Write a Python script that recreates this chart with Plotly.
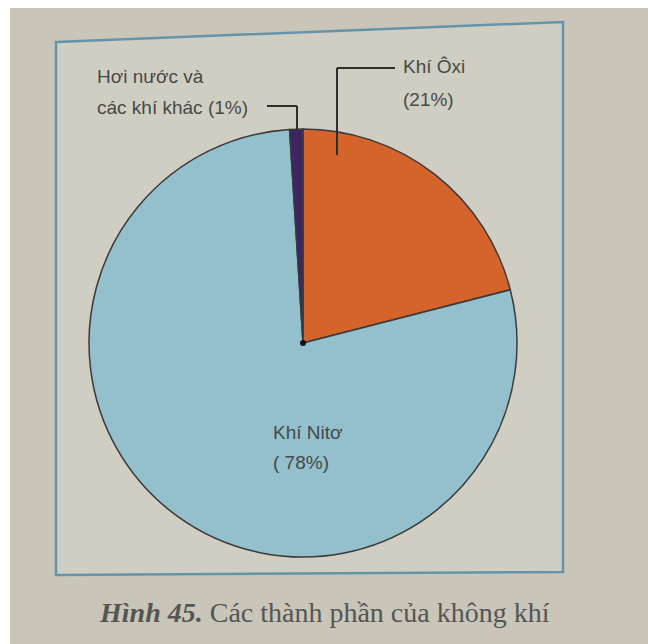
import plotly.graph_objects as go

labels = ["Khí Ôxi", "Khí Nitơ", "Hơi nước và các khí khác"]
values = [21, 78, 1]
colors = ["#D4642C", "#93C0CC", "#3E2463"]

W, H = 648, 644
def px(x): return x / W
def py(y): return 1 - y / H

cx, cy, r = 303, 343, 214

fig = go.Figure()
fig.add_trace(go.Pie(
    labels=labels, values=values, sort=False, direction="clockwise", rotation=0,
    marker=dict(colors=colors, line=dict(color="#3a3a3a", width=1.5)),
    textinfo="none", hoverinfo="label+percent", showlegend=False,
    domain=dict(x=[px(cx - r), px(cx + r)], y=[py(cy + r), py(cy - r)]),
))

shapes = []
shapes.append(dict(type="rect", xref="paper", yref="paper", x0=0, x1=1, y0=py(8), y1=1,
                   fillcolor="white", line=dict(width=0), layer="below"))
shapes.append(dict(type="rect", xref="paper", yref="paper", x0=0, x1=px(10), y0=0, y1=1,
                   fillcolor="white", line=dict(width=0), layer="below"))
frame = f"M {px(56)} {py(42)} L {px(563)} {py(22)} L {px(563)} {py(572)} L {px(56)} {py(575)} Z"
shapes.append(dict(type="path", xref="paper", yref="paper", path=frame,
                   fillcolor="rgba(214,212,200,0.6)",
                   line=dict(color="#6594aa", width=2.5), layer="below"))
lc = "#2e2e2e"
shapes.append(dict(type="line", xref="paper", yref="paper", x0=px(267), y0=py(106), x1=px(297), y1=py(106), line=dict(color=lc, width=2)))
shapes.append(dict(type="line", xref="paper", yref="paper", x0=px(297), y0=py(106), x1=px(297), y1=py(130), line=dict(color=lc, width=2)))
shapes.append(dict(type="line", xref="paper", yref="paper", x0=px(337), y0=py(68), x1=px(395), y1=py(68), line=dict(color=lc, width=2)))
shapes.append(dict(type="line", xref="paper", yref="paper", x0=px(337), y0=py(68), x1=px(337), y1=py(155), line=dict(color=lc, width=2)))
shapes.append(dict(type="circle", xref="paper", yref="paper", x0=px(cx - 3), x1=px(cx + 3), y0=py(cy + 3), y1=py(cy - 3),
                   fillcolor="#111", line=dict(width=0)))

tc = "#484848"
font = dict(family="Liberation Sans, Arial, sans-serif", size=19, color=tc)
lines = [
    ("Hơi nước và", 95, 77),
    ("các khí khác (1%)", 95, 108),
    ("Khí Ôxi", 401, 66),
    ("(21%)", 401, 100),
    ("Khí Nitơ", 271, 432),
    ("( 78%)", 271, 462),
]
ann = []
for t, x, y in lines:
    ann.append(dict(text=t, x=px(x), y=py(y), xanchor="left", yanchor="middle",
                    xref="paper", yref="paper", showarrow=False, font=font))
ann.append(dict(text="<b><i>Hình 45.</i></b> Các thành phần của không khí", xref="paper", yref="paper",
                x=px(97), y=py(612), xanchor="left", yanchor="middle", showarrow=False,
                font=dict(family="Liberation Serif, Times New Roman, serif", size=28, color="#555")))

fig.update_layout(
    width=W, height=H, margin=dict(l=0, r=0, t=0, b=0),
    paper_bgcolor="#C9C5B8", plot_bgcolor="#C9C5B8",
    shapes=shapes, annotations=ann,
)
fig.write_html("out.html", post_script="document.body.style.margin='0';",
               config={"displayModeBar": False})
